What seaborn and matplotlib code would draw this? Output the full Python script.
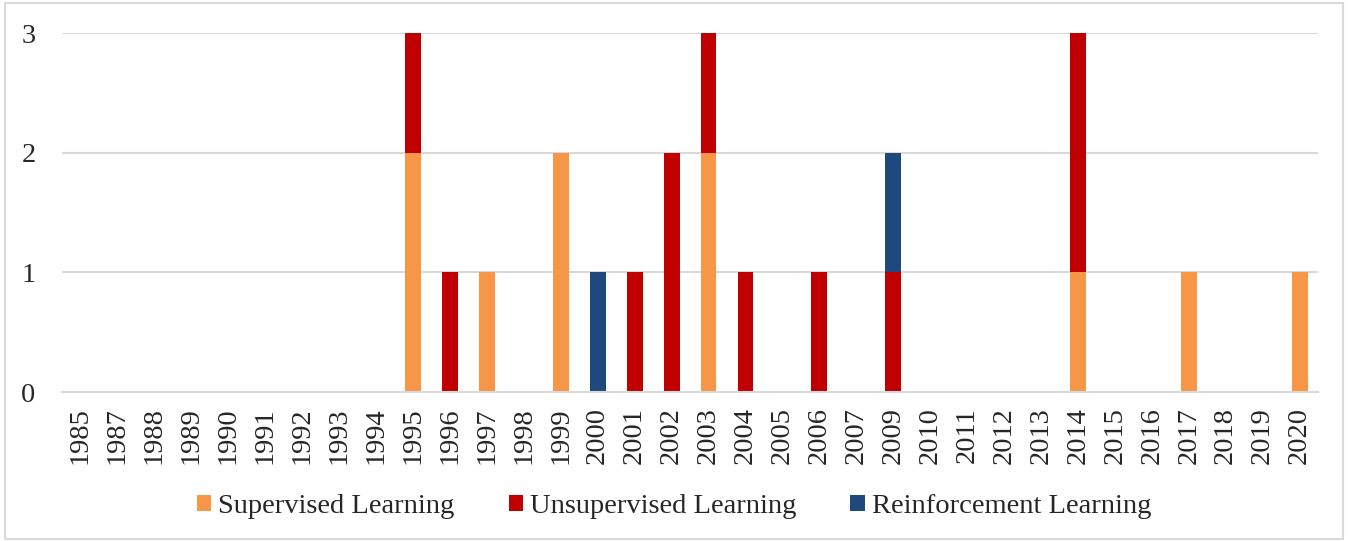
import matplotlib
matplotlib.use("Agg")
import matplotlib.pyplot as plt
import numpy as np
import pandas as pd
import seaborn as sns
from matplotlib.patches import Patch, Rectangle

years = ['1985', '1987', '1988', '1989', '1990', '1991', '1992', '1993', '1994', '1995',
         '1996', '1997', '1998', '1999', '2000', '2001', '2002', '2003', '2004', '2005',
         '2006', '2007', '2009', '2010', '2011', '2012', '2013', '2014', '2015', '2016',
         '2017', '2018', '2019', '2020']

supervised = {'1995': 2, '1997': 1, '1999': 2, '2003': 2, '2014': 1, '2017': 1, '2020': 1}
unsupervised = {'1995': 1, '1996': 1, '2001': 1, '2002': 2, '2003': 1, '2004': 1,
                '2006': 1, '2009': 1, '2014': 2}
reinforcement = {'2000': 1, '2009': 1}

series_names = ['Supervised Learning', 'Unsupervised Learning', 'Reinforcement Learning']
series_vals = [supervised, unsupervised, reinforcement]
colors = ['#F79646', '#C00000', '#1F497D']

sns.set_style('white')
plt.rcParams['font.family'] = ['Liberation Serif', 'DejaVu Serif']

fig = plt.figure(figsize=(13.48, 5.41), dpi=100)
ax = fig.add_axes([0.046, 0.2754, 0.9318, 0.6636])

bottom = np.zeros(len(years))
for name, vals, col in zip(series_names, series_vals, colors):
    heights = np.array([vals.get(y, 0) for y in years], dtype=float)
    df = pd.DataFrame({'year': years, 'count': heights})
    sns.barplot(data=df, x='year', y='count', order=years, color=col, width=0.43,
                bottom=bottom, ax=ax, saturation=1, errorbar=None,
                linewidth=0, edgecolor='none')
    bottom = bottom + heights

ax.set_ylim(0, 3)
ax.set_xlim(-0.5, len(years) - 0.5)
ax.set_yticks([0, 1, 2, 3])
ax.yaxis.grid(True, color='#D9D9D9', linewidth=1.5)
ax.set_axisbelow(True)
for s in ['top', 'right', 'left']:
    ax.spines[s].set_visible(False)
ax.spines['bottom'].set_color('#D9D9D9')
ax.spines['bottom'].set_linewidth(1.5)
ax.set_xlabel('')
ax.set_ylabel('')
ax.tick_params(axis='x', labelrotation=90, labelsize=20.5, length=0, pad=11)
ax.tick_params(axis='y', labelsize=20.5, length=0, pad=19)

handles = [Patch(facecolor=c, edgecolor='none') for c in colors]
fig.legend(handles, series_names, loc='center', bbox_to_anchor=(0.5, 0.063), ncol=3,
           frameon=False, fontsize=20.5, handlelength=0.5, handleheight=0.5,
           handletextpad=0.25, columnspacing=1.9)

fig.patches.append(Rectangle((0.004, 0.004), 0.992, 0.99, transform=fig.transFigure,
                             fill=False, edgecolor='#D9D9D9', linewidth=1.5))

fig.savefig('out.png', dpi=100)
